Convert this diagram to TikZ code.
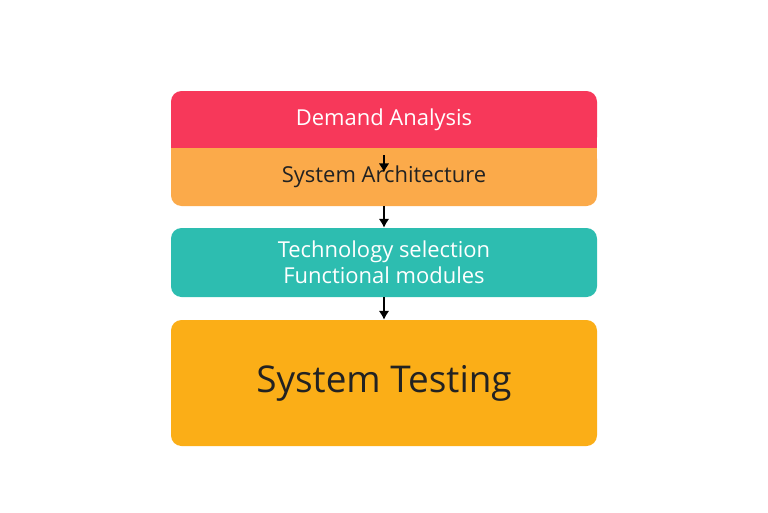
\documentclass[tikz,border=0pt]{standalone}
\usepackage{fontspec}
\setmainfont{Open Sans}
\usetikzlibrary{arrows.meta}
\definecolor{stagered}{HTML}{F7385A}
\definecolor{stageorange}{HTML}{FBAA4A}
\definecolor{stageteal}{HTML}{2DBDB0}
\definecolor{stageyellow}{HTML}{FBAE17}
\definecolor{stagetext}{HTML}{222222}
\begin{document}
\begin{tikzpicture}[
        x=0.02cm,
        y=-0.02cm,
        stage/.style={
            rectangle,
            rounded corners=6,
            minimum width=426*0.02cm,
            align=center,
            inner sep=0pt,
        },
        flow/.style={
            -{Latex[length=5pt,width=6pt]},
            thick,
            black,
        },
    ]
    \useasboundingbox (0,0) rectangle (768,512);

    % Stages.
    \node[stage, fill=stagered, text=white, minimum height=57*0.02cm, font=\fontsize{12.5}{15}\selectfont]
        (demand) at (384,119.5) {Demand Analysis};
    \node[stage, fill=stageorange, text=stagetext, minimum height=58*0.02cm, font=\fontsize{12.5}{15}\selectfont]
        (arch) at (384,177) {System Architecture};
    % Square off the joint between the first two stages.
    \fill[stagered] (171,138) rectangle (597,148);
    \fill[stageorange] (171,148) rectangle (597,158);
    \node[stage, fill=stageteal, text=white, minimum height=69*0.02cm, font=\fontsize{12.5}{15}\selectfont]
        (tech) at (384,262.5) {Technology selection\\Functional modules};
    \node[stage, fill=stageyellow, text=stagetext, minimum height=126*0.02cm, font=\fontsize{21}{25}\selectfont]
        (test) at (384,383) {System Testing};

    % Flow arrows.
    \draw[flow] ([yshift=-4]demand.south) -- ([yshift=-14]arch.north);
    \draw[flow] (arch.south) -- (tech.north);
    \draw[flow] (tech.south) -- (test.north);
\end{tikzpicture}
\end{document}
